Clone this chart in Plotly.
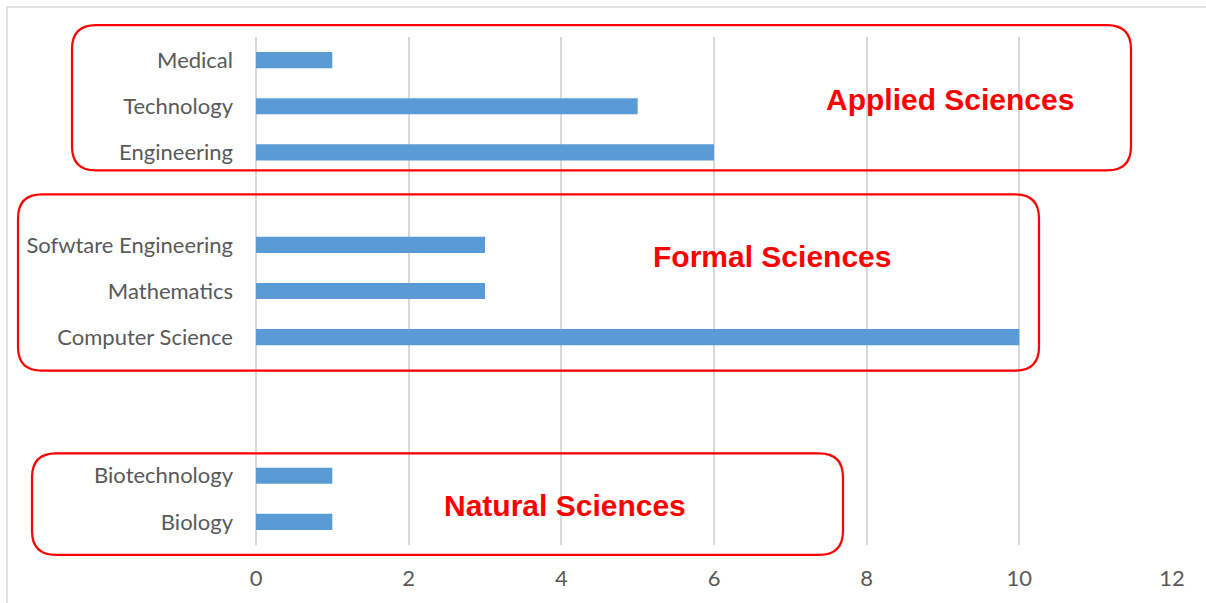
import plotly.graph_objects as go

# Disciplines, listed bottom-to-top, with empty slots separating the groups
categories = ["Biology", "Biotechnology", "", "", "Computer Science", "Mathematics",
              "Sofwtare Engineering", "", "Engineering", "Technology", "Medical"]
counts = [1, 1, None, None, 10, 3, 3, None, 6, 5, 1]
x_ticks = [0, 2, 4, 6, 8, 10, 12]

group_labels = ["Applied Sciences", "Formal Sciences", "Natural Sciences"]

W, H = 1206, 603
ML, MR, MT, MB = 256, 34, 37, 56
PW, PH = W - ML - MR, H - MT - MB


def px_x(x):
    return (x - ML) / PW


def px_y(y):
    return 1 - (y - MT) / PH


def rounded_rect(x0, y0, x1, y1, r):
    """SVG path for a rounded rectangle given in pixel coordinates."""
    pts = []
    pts.append(f"M {px_x(x0 + r)} {px_y(y0)}")
    pts.append(f"L {px_x(x1 - r)} {px_y(y0)}")
    pts.append(f"Q {px_x(x1)} {px_y(y0)} {px_x(x1)} {px_y(y0 + r)}")
    pts.append(f"L {px_x(x1)} {px_y(y1 - r)}")
    pts.append(f"Q {px_x(x1)} {px_y(y1)} {px_x(x1 - r)} {px_y(y1)}")
    pts.append(f"L {px_x(x0 + r)} {px_y(y1)}")
    pts.append(f"Q {px_x(x0)} {px_y(y1)} {px_x(x0)} {px_y(y1 - r)}")
    pts.append(f"L {px_x(x0)} {px_y(y0 + r)}")
    pts.append(f"Q {px_x(x0)} {px_y(y0)} {px_x(x0 + r)} {px_y(y0)} Z")
    return " ".join(pts)


positions = list(range(len(categories)))

fig = go.Figure(go.Bar(
    x=counts,
    y=positions,
    orientation="h",
    width=0.35,
    marker=dict(color="#5b9bd5", line=dict(width=0)),
))

boxes = [(72, 25, 1131, 171), (18, 195, 1039, 372), (32, 455, 843, 557)]
label_pos = [(950, 100), (772, 257), (565, 507)]

shapes = [dict(type="rect", xref="paper", yref="paper",
               x0=px_x(7), y0=px_y(7), x1=px_x(1215), y1=px_y(615),
               line=dict(color="#d9d9d9", width=1.5), layer="below")]
for b in boxes:
    shapes.append(dict(type="path", xref="paper", yref="paper",
                       path=rounded_rect(*b, 24),
                       line=dict(color="#ff0000", width=2.2)))

annotations = []
for txt, (ax, ay) in zip(group_labels, label_pos):
    annotations.append(dict(x=px_x(ax), y=px_y(ay), xref="paper", yref="paper",
                            text=txt, showarrow=False, xanchor="center", yanchor="middle",
                            font=dict(family="Liberation Sans", size=30, color="#ff0000",
                                      weight="bold")))

fig.update_layout(
    width=W, height=H,
    margin=dict(l=ML, r=MR, t=MT, b=MB),
    plot_bgcolor="white", paper_bgcolor="white",
    showlegend=False,
    shapes=shapes,
    annotations=annotations,
    font=dict(family="Lato", size=22, color="#595959"),
    xaxis=dict(range=[0, 12], tickvals=x_ticks, showgrid=True, gridcolor="#d9d9d9",
               gridwidth=1.5, zeroline=True, zerolinecolor="#d9d9d9", zerolinewidth=1.5,
               showline=False, ticks="", ticklabelstandoff=18, fixedrange=True),
    yaxis=dict(range=[-0.5, len(categories) - 0.5], tickvals=positions, ticktext=categories,
               showgrid=False, zeroline=False, showline=False, ticks="",
               ticklabelstandoff=22, fixedrange=True),
)

fig.write_html("out.html")
